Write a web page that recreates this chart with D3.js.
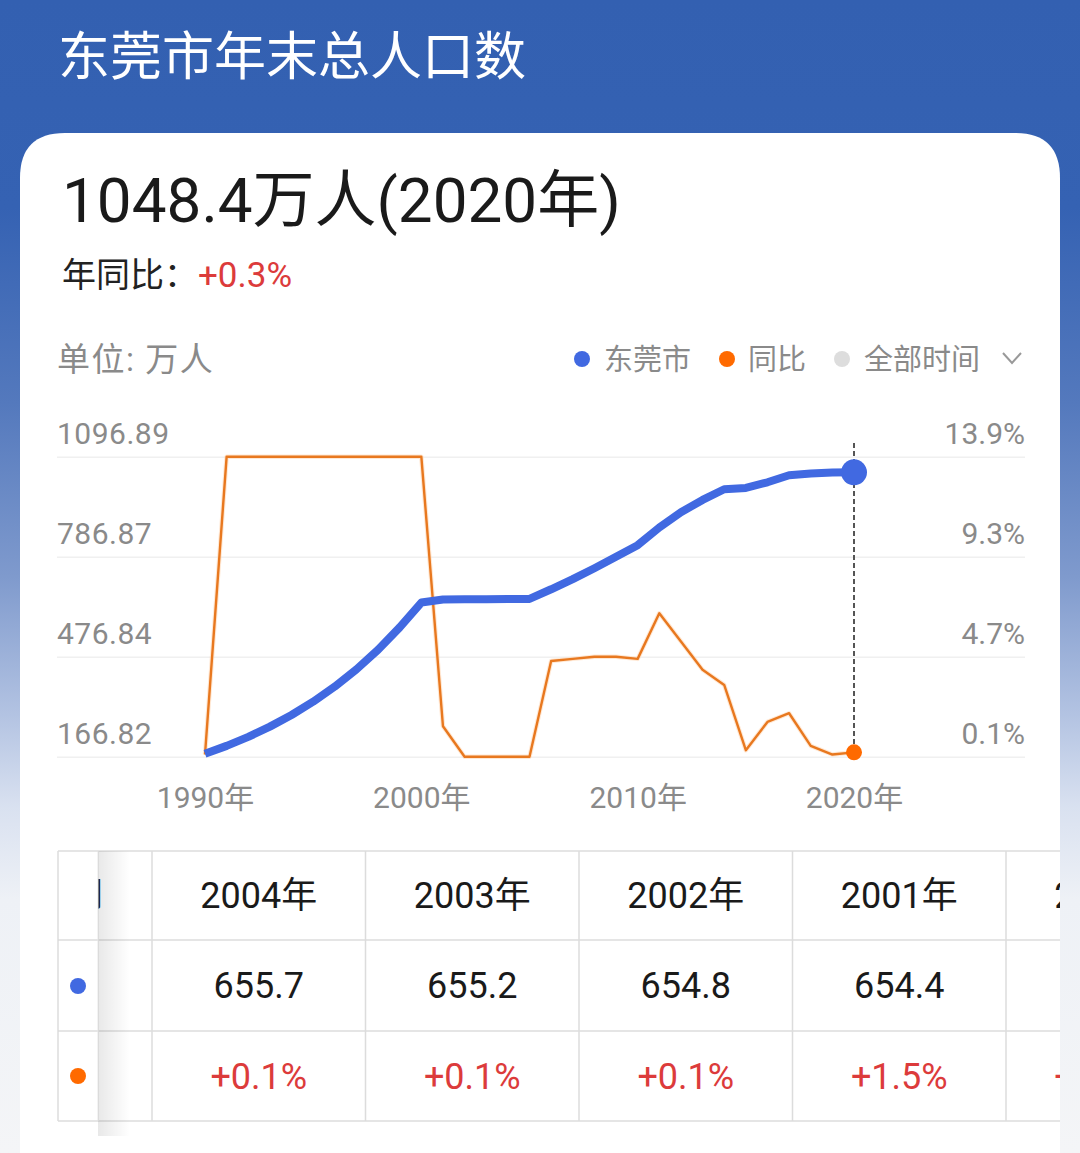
<!DOCTYPE html>
<html><head><meta charset="utf-8">
<script src="https://cdn.jsdelivr.net/npm/d3@7"></script>
<style>html,body{margin:0;padding:0;background:#f4f5f7;}svg{display:block;}</style>
</head><body>
<svg id="c" width="1080" height="1153"></svg>
<script>
// ---- data ----
const years = [1990,1991,1992,1993,1994,1995,1996,1997,1998,1999,2000,2001,2002,2003,2004,2005,2006,2007,2008,2009,2010,2011,2012,2013,2014,2015,2016,2017,2018,2019,2020];
const population = [176.0,200.4,228.3,260.0,296.2,337.3,384.2,437.6,498.5,567.8,644.8,654.4,654.8,655.2,655.7,656.1,685.9,717.5,751.2,786.7,822.5,877.4,924.8,962.9,996.0,1000.1,1017.5,1039.3,1045.1,1047.8,1048.4];
const yoy = [0.2,13.9,13.9,13.9,13.9,13.9,13.9,13.9,13.9,13.9,13.9,1.5,0.1,0.1,0.1,0.1,4.5,4.6,4.7,4.7,4.6,6.7,5.4,4.1,3.4,0.4,1.7,2.1,0.6,0.2,0.3];
const leftTicks = [166.82,476.84,786.87,1096.89];
const rightTicks = [0.1,4.7,9.3,13.9];
const xTicks = [1990,2000,2010,2020];
const tableYears = [2004,2003,2002,2001,2000];
const title = "东莞市年末总人口数";
const legendItems = ["东莞市","同比","全部时间"];

const FONT = "Roboto, 'Noto Sans CJK SC', sans-serif";
const BLUE = "#4169e1", ORANGE = "#e8781f", ORANGE_DOT = "#ff6a00", RED = "#dc3b3b", GRAY = "#8a8a8a";

const svg = d3.select("#c");
const defs = svg.append("defs");
const bg = defs.append("linearGradient").attr("id","bg").attr("x1",0).attr("y1",0).attr("x2",0).attr("y2",1);
[[0,"#3360b1"],[0.18,"#3562b3"],[0.35,"#5479bd"],[0.5,"#7f9acd"],[0.62,"#b3c3e2"],[0.7,"#d9e1f0"],[0.78,"#eef1f6"],[1,"#f4f5f7"]]
  .forEach(([o,c])=>bg.append("stop").attr("offset",o).attr("stop-color",c));
const sh = defs.append("linearGradient").attr("id","sh").attr("x1",0).attr("y1",0).attr("x2",1).attr("y2",0);
sh.append("stop").attr("offset",0).attr("stop-color","#000").attr("stop-opacity",0.09);
sh.append("stop").attr("offset",1).attr("stop-color","#000").attr("stop-opacity",0);
defs.append("clipPath").attr("id","tclip").append("rect").attr("x",20).attr("y",840).attr("width",1040).attr("height",313);
defs.append("clipPath").attr("id","lclip").append("rect").attr("x",98).attr("y",851).attr("width",54).attr("height",89);

svg.append("rect").attr("width",1080).attr("height",1153).attr("fill","url(#bg)");

// card
const r = 45, cx0 = 20, cx1 = 1060, cy0 = 133;
svg.append("path").attr("fill","#fff")
  .attr("d",`M${cx0},1160 L${cx0},${cy0+r} Q${cx0},${cy0} ${cx0+r},${cy0} L${cx1-r},${cy0} Q${cx1},${cy0} ${cx1},${cy0+r} L${cx1},1160 Z`);

// title
svg.append("text").attr("x",58).attr("y",75).attr("fill","#fff").attr("font-family",FONT).attr("font-size",52).text(title);

// headline
const last = population.length-1;
svg.append("text").attr("x",62).attr("y",222).attr("fill","#1a1a1a").attr("font-family",FONT).attr("font-size",62)
  .text(`${population[last].toFixed(1)}万人(${years[last]}年)`);
const sub = svg.append("text").attr("x",62).attr("y",287).attr("font-family",FONT).attr("font-size",34);
sub.append("tspan").attr("fill","#222").text("年同比：");
sub.append("tspan").attr("fill",RED).attr("font-size",35).text(`+${yoy[last].toFixed(1)}%`);

// unit
svg.append("text").attr("x",57).attr("y",371).attr("fill",GRAY).attr("font-family",FONT).attr("font-size",33).attr("letter-spacing",1.5).text("单位: 万人");

// legend
const lg = svg.append("g").attr("font-family",FONT).attr("font-size",29).attr("fill",GRAY);
const lgPos = [[582,604,BLUE],[727,748,ORANGE_DOT],[842,864,"#dddddd"]];
legendItems.forEach((t,i)=>{
  lg.append("circle").attr("cx",lgPos[i][0]).attr("cy",359).attr("r",8).attr("fill",lgPos[i][2]);
  lg.append("text").attr("x",lgPos[i][1]).attr("y",370).text(t);
});
svg.append("path").attr("d","M1003,353 L1012,363 L1021,353").attr("fill","none").attr("stroke","#999").attr("stroke-width",2);

// scales
const x = d3.scaleLinear().domain([1990,2020]).range([205,854]);
const yL = d3.scaleLinear().domain([166.82,1096.89]).range([756.7,456.7]);
const yR = d3.scaleLinear().domain([0.1,13.9]).range([756.7,456.7]);

// grid
const grid = svg.append("g").attr("transform","translate(1025,0)")
  .call(d3.axisLeft(yL).tickValues(leftTicks).tickSize(968).tickFormat(""));
grid.select(".domain").remove();
grid.selectAll("line").attr("stroke","#f0f0f0").attr("stroke-width",1.5);

// left axis
const ax = svg.append("g").attr("transform","translate(57,0)")
  .call(d3.axisRight(yL).tickValues(leftTicks).tickSize(0).tickPadding(0).tickFormat(d=>d.toFixed(2)));
ax.select(".domain").remove();
ax.selectAll("text").attr("dy",-13).attr("font-family",FONT).attr("font-size",30).attr("letter-spacing",0.5).attr("fill",GRAY);

// right axis
const ar = svg.append("g").attr("transform","translate(1025,0)")
  .call(d3.axisLeft(yR).tickValues(rightTicks).tickSize(0).tickPadding(0).tickFormat(d=>d.toFixed(1)+"%"));
ar.select(".domain").remove();
ar.selectAll("text").attr("dy",-13).attr("font-family",FONT).attr("font-size",30).attr("fill",GRAY);

// x axis
const axb = svg.append("g").attr("transform","translate(0,757)")
  .call(d3.axisBottom(x).tickValues(xTicks).tickSize(0).tickPadding(0).tickFormat(d=>d+"年"));
axb.select(".domain").remove();
axb.selectAll("text").attr("dy",0).attr("y",51).attr("font-family",FONT).attr("font-size",30).attr("fill",GRAY);

// lines
const idx = d3.range(years.length);
svg.append("path").datum(idx).attr("fill","none").attr("stroke","#ffd9b8").attr("stroke-width",4.5).attr("stroke-linejoin","round").attr("opacity",0.6)
  .attr("d",d3.line().x(i=>x(years[i])).y(i=>yR(yoy[i])));
svg.append("path").datum(idx).attr("fill","none").attr("stroke",ORANGE).attr("stroke-width",2.4).attr("stroke-linejoin","round")
  .attr("d",d3.line().x(i=>x(years[i])).y(i=>yR(yoy[i])));
svg.append("path").datum(idx).attr("fill","none").attr("stroke",BLUE).attr("stroke-width",8).attr("stroke-linejoin","round").attr("stroke-linecap","butt")
  .attr("d",d3.line().x(i=>x(years[i])).y(i=>yL(population[i])));

// highlight
svg.append("line").attr("x1",x(years[last])).attr("x2",x(years[last])).attr("y1",443).attr("y2",757)
  .attr("stroke","#555").attr("stroke-width",2).attr("stroke-dasharray","5,3");
svg.append("circle").attr("cx",x(years[last])).attr("cy",yL(population[last])).attr("r",13).attr("fill",BLUE);
svg.append("circle").attr("cx",x(years[last])).attr("cy",yR(yoy[last])).attr("r",8).attr("fill",ORANGE_DOT);

// table
const tb = svg.append("g").attr("clip-path","url(#tclip)").attr("font-family",FONT);
const rowsY = [851,940,1031,1121];
const colW = 213.5, col0 = 152;
const BORDER = "#dcdcdc";
rowsY.forEach(y=>tb.append("line").attr("x1",58).attr("x2",1080).attr("y1",y).attr("y2",y).attr("stroke",BORDER).attr("stroke-width",1.5));
[58,98,152].concat(d3.range(1,6).map(k=>col0+k*colW)).forEach(xx=>
  tb.append("line").attr("x1",xx).attr("x2",xx).attr("y1",851).attr("y2",1121).attr("stroke",BORDER).attr("stroke-width",1.5));
tableYears.forEach((yr,k)=>{
  const i = years.indexOf(yr);
  const cxm = col0 + k*colW + colW/2;
  tb.append("text").attr("x",cxm).attr("y",908).attr("text-anchor","middle").attr("font-size",36).attr("fill","#1a1a1a").text(yr+"年");
  tb.append("text").attr("x",cxm).attr("y",998).attr("text-anchor","middle").attr("font-size",36).attr("fill","#1a1a1a").text(population[i].toFixed(1));
  tb.append("text").attr("x",cxm).attr("y",1089).attr("text-anchor","middle").attr("font-size",36).attr("fill",RED).text("+"+yoy[i].toFixed(1)+"%");
});
// partially hidden column label (only its right edge shows)
tb.append("g").attr("clip-path","url(#lclip)")
  .append("text").attr("x",103).attr("y",906).attr("text-anchor","end").attr("font-size",34).attr("fill","#1a1a1a").text("时间");
// sticky first column
tb.append("rect").attr("x",98).attr("y",851).attr("width",32).attr("height",285).attr("fill","url(#sh)");
tb.append("rect").attr("x",59).attr("y",852).attr("width",39).attr("height",268).attr("fill","#fff");
tb.append("line").attr("x1",58).attr("x2",98).attr("y1",940).attr("y2",940).attr("stroke",BORDER).attr("stroke-width",1.5);
tb.append("line").attr("x1",58).attr("x2",98).attr("y1",1031).attr("y2",1031).attr("stroke",BORDER).attr("stroke-width",1.5);
tb.append("line").attr("x1",98).attr("x2",98).attr("y1",851).attr("y2",1121).attr("stroke","#e6e6e6").attr("stroke-width",1);
tb.append("circle").attr("cx",78).attr("cy",986).attr("r",8).attr("fill",BLUE);
tb.append("circle").attr("cx",78).attr("cy",1076).attr("r",8).attr("fill",ORANGE_DOT);
</script>
</body></html>
